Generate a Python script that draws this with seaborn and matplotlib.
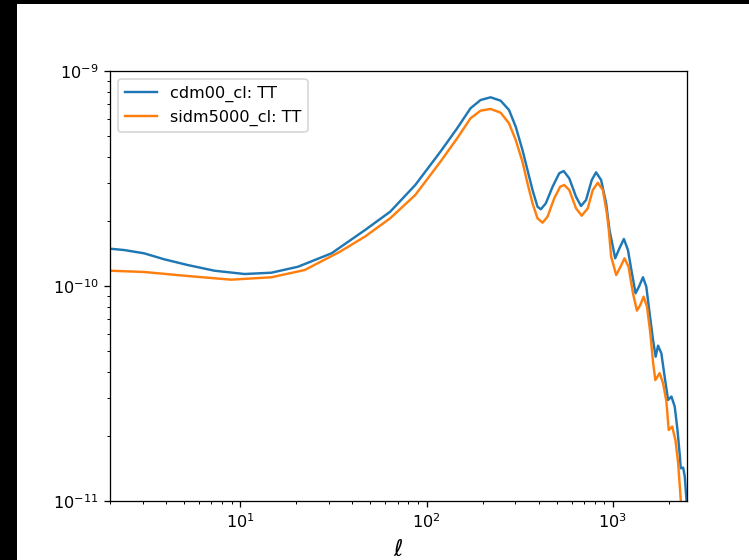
import numpy as np
import pandas as pd
import matplotlib
matplotlib.use("Agg")
import matplotlib.pyplot as plt
from matplotlib.patches import Rectangle
import seaborn as sns

# multipoles and TT spectra
ell_cdm = [2, 2.38, 3.05, 3.91, 5.22, 7.27, 10.55, 14.7, 20.4, 30.9, 46.8, 63.8,
           87.0, 118.7, 146.0, 172.2, 195.0, 220.8, 249.9, 277.1, 301.0, 327.2,
           348.2, 370.5, 394.1, 410.7, 436.9, 474.9, 515.3, 544.3, 583.4, 634.2,
           674.8, 718.0, 770.6, 812.8, 864.9, 920.3, 958.8, 1000, 1029, 1085,
           1146, 1205, 1266, 1324, 1381, 1451, 1512, 1575, 1643, 1697, 1748,
           1821, 1897, 1979, 2062, 2148, 2222, 2286, 2314, 2384, 2432, 2484, 2500]
tt_cdm = [1.491e-10, 1.470e-10, 1.419e-10, 1.331e-10, 1.252e-10, 1.178e-10,
          1.137e-10, 1.153e-10, 1.229e-10, 1.419e-10, 1.822e-10, 2.216e-10,
          2.950e-10, 4.214e-10, 5.415e-10, 6.709e-10, 7.330e-10, 7.545e-10,
          7.275e-10, 6.588e-10, 5.508e-10, 4.291e-10, 3.463e-10, 2.796e-10,
          2.338e-10, 2.274e-10, 2.425e-10, 2.897e-10, 3.343e-10, 3.426e-10,
          3.168e-10, 2.602e-10, 2.355e-10, 2.512e-10, 3.112e-10, 3.379e-10,
          3.112e-10, 2.425e-10, 1.822e-10, 1.524e-10, 1.345e-10, 1.498e-10,
          1.655e-10, 1.470e-10, 1.146e-10, 9.25e-11, 9.93e-11, 1.098e-10,
          9.93e-11, 7.46e-11, 5.61e-11, 4.69e-11, 5.28e-11, 4.86e-11, 3.78e-11,
          2.95e-11, 3.06e-11, 2.75e-11, 2.14e-11, 1.64e-11, 1.42e-11, 1.43e-11,
          1.30e-11, 1.01e-11, 9.0e-12]

ell_sidm = [2, 3.05, 5.22, 8.94, 14.7, 22.2, 34.3, 46.8, 63.8, 87.0, 118.7,
            146.0, 152.1, 172.2, 195.0, 220.8, 249.9, 277.1, 301.0, 327.2, 348.2,
            370.5, 394.1, 419.4, 446.2, 484.5, 521.8, 548.4, 583.4, 634.2, 680.7,
            733.3, 780.3, 830, 883.4, 928.4, 951.4, 979, 1042, 1099, 1155, 1214,
            1282, 1347, 1404, 1462, 1525, 1589, 1643, 1690, 1783, 1860, 1938,
            1994, 2081, 2167, 2241, 2314, 2500]
tt_sidm = [1.178e-10, 1.162e-10, 1.113e-10, 1.070e-10, 1.098e-10, 1.187e-10,
           1.444e-10, 1.699e-10, 2.065e-10, 2.650e-10, 3.785e-10, 4.864e-10,
           5.131e-10, 6.026e-10, 6.539e-10, 6.660e-10, 6.398e-10, 5.712e-10,
           4.775e-10, 3.785e-10, 3.004e-10, 2.425e-10, 2.065e-10, 1.970e-10,
           2.101e-10, 2.558e-10, 2.897e-10, 2.950e-10, 2.796e-10, 2.298e-10,
           2.123e-10, 2.298e-10, 2.796e-10, 3.022e-10, 2.796e-10, 2.179e-10,
           1.822e-10, 1.369e-10, 1.125e-10, 1.229e-10, 1.345e-10, 1.229e-10,
           9.25e-11, 7.68e-11, 8.16e-11, 8.92e-11, 8.01e-11, 6.03e-11, 4.43e-11,
           3.65e-11, 3.93e-11, 3.53e-11, 2.90e-11, 2.14e-11, 2.22e-11, 1.92e-11,
           1.50e-11, 1.01e-11, 5.0e-12]

labels = ["cdm00_cl: TT", "sidm5000_cl: TT"]

df = pd.concat([
    pd.DataFrame({"ell": ell_cdm, "cl": tt_cdm, "model": labels[0]}),
    pd.DataFrame({"ell": ell_sidm, "cl": tt_sidm, "model": labels[1]}),
])

dpi = 116.3
fig = plt.figure(figsize=(749 / dpi, 560 / dpi), dpi=dpi, facecolor="black")
# the reference canvas is shifted, leaving a black strip on the left and top
fig.patches.append(Rectangle((17 / 749, 0), 1, 556 / 560, transform=fig.transFigure,
                             facecolor="white", edgecolor="none", zorder=-1))

ax = fig.add_axes([110 / 749, 59 / 560, 577 / 749, 430 / 560])
sns.lineplot(data=df, x="ell", y="cl", hue="model", sort=False,
             palette=["#1f77b4", "#ff7f0e"], linewidth=1.5, ax=ax)

ax.set_xscale("log")
ax.set_yscale("log")
ax.set_xlim(2, 2500)
ax.set_ylim(1e-11, 1e-9)
ax.set_xlabel(r"$\ell$", fontsize=14)
ax.set_ylabel("")
ax.legend(loc="upper left", title=None)

fig.savefig("out.png", dpi=dpi, facecolor=fig.get_facecolor())
